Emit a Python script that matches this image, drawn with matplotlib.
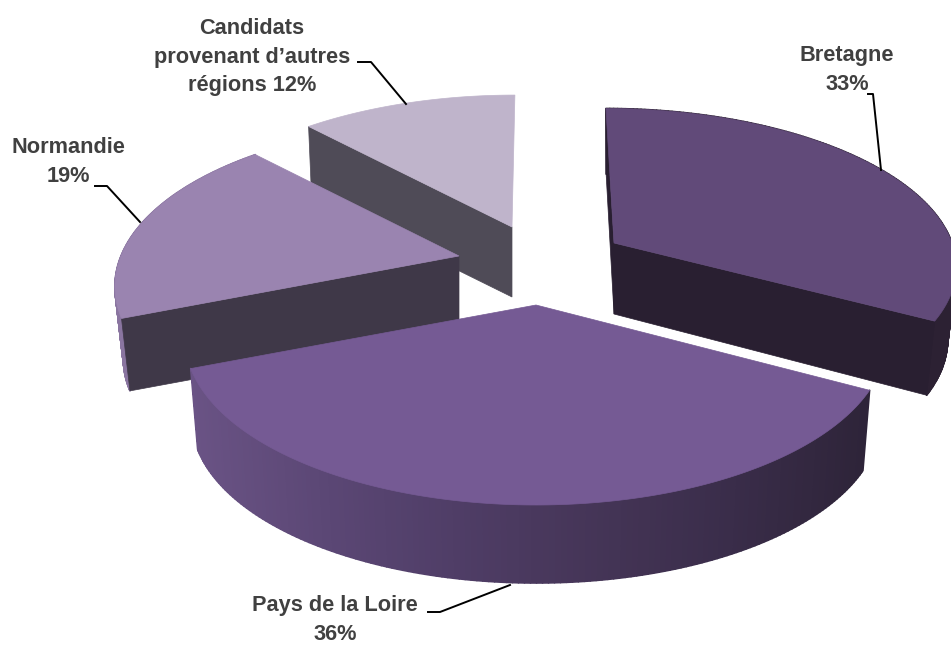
#3D looking exploded pie, drawn by hand since matplotlib has no perspective pie
import numpy as np
import matplotlib
matplotlib.use("Agg")
import matplotlib.pyplot as plt
from matplotlib.collections import PolyCollection
from matplotlib.colors import LinearSegmentedColormap

plt.rcParams['font.family'] = ['Liberation Sans', 'DejaVu Sans']

regions = ["Bretagne", "Pays de la Loire", "Normandie", "Candidats"]
shares = [33, 36, 19, 12]
label_texts = ["Bretagne\n33%", "Pays de la Loire\n36%", "Normandie\n19%",
               "Candidats\nprovenant d\u2019autres\nrégions 12%"]

#slice geometry in pixels: apex, semi axes, perspective, wall depth, scales of the lower face, tilt
geometry = {
    "Bretagne": dict(cx=614, cy=243, a=338, b=152, k=0.13, d=71, s=0.975, sy=1.04, tilt=0.06),
    "Pays de la Loire": dict(cx=536, cy=305, a=344, b=160, k=0.20, d=82, s=0.98, sy=0.98, tilt=0.0),
    "Normandie": dict(cx=459, cy=256, a=338, b=158, k=0.187, d=74, s=0.975, sy=0.975, tilt=0.0),
    "Candidats": dict(cx=512, cy=227, a=342, b=157, k=0.19, d=70, s=0.985, sy=0.985, tilt=-0.022),
}
top_colors = {"Bretagne": "#614a79", "Pays de la Loire": "#755a94",
              "Normandie": "#9a84b0", "Candidats": "#bfb4cb"}
wall_colors = {"Bretagne": "#291f31", "Pays de la Loire": "#2e2439",
               "Normandie": "#3f3848", "Candidats": "#4f4b57"}
#the Candidats slice points away from the viewer so it shows no rim
rim_colors = {"Bretagne": ["#2c2133", "#2c2133"],
              "Pays de la Loire": ["#6a5385", "#5b4775", "#4f3d66", "#453557", "#3a2d4a", "#2e2439"],
              "Normandie": ["#8a75a0", "#8a75a0"],
              "Candidats": None}
#which cut edges show a wall: 0 = first edge clockwise, -1 = last edge
visible_walls = {"Bretagne": [0, -1], "Pays de la Loire": [], "Normandie": [0], "Candidats": [0]}

#back slices first so the front ones cover them
draw_order = ["Candidats", "Normandie", "Bretagne", "Pays de la Loire"]

label_pos = {"Bretagne": (847, 70), "Pays de la Loire": (335, 620),
             "Normandie": (68, 162), "Candidats": (252, 57)}
leaders = {"Bretagne": [(868, 94), (873, 94), (881, 170)],
           "Pays de la Loire": [(428, 612), (440, 612), (510, 585)],
           "Normandie": [(95, 186), (107, 186), (140, 222)],
           "Candidats": [(358, 62), (371, 62), (406, 104)]}


def project(g, t, lower=False):
    u, v = np.cos(t), np.sin(t)
    w = 1 + g["k"] * v
    x = g["a"] * u / w
    y = -g["b"] * v / w
    x = x + g["tilt"] * y
    if lower:
        return g["cx"] + g["s"] * x, g["cy"] + g["sy"] * y + g["d"]
    return g["cx"] + x, g["cy"] + y


def draw_slice(ax, name, start, end):
    g = geometry[name]
    t = np.radians(np.linspace(start, end, 160))
    xt, yt = project(g, t)
    xb, yb = project(g, t, lower=True)
    ax0, ay0 = g["cx"], g["cy"]
    bx0, by0 = g["cx"], g["cy"] + g["d"]

    #rim as thin quads so it can carry a horizontal gradient
    if rim_colors[name]:
        cmap = LinearSegmentedColormap.from_list(name, rim_colors[name])
        quads = []
        cols = []
        for i in range(len(t) - 1):
            quads.append([(xt[i], yt[i]), (xt[i + 1], yt[i + 1]), (xb[i + 1], yb[i + 1]), (xb[i], yb[i])])
            cols.append(cmap(np.clip((xt[i] - 188) / (869 - 188), 0, 1)))
        ax.add_collection(PolyCollection(quads, facecolors=cols, edgecolors=cols, linewidths=1.2, zorder=1))

    #flat walls on the cut edges, over the rim ends
    for i in visible_walls[name]:
        ax.fill([ax0, xt[i], xb[i], bx0], [ay0, yt[i], yb[i], by0],
                color=wall_colors[name], lw=0.5, zorder=1)

    ax.fill(np.r_[ax0, xt], np.r_[ay0, yt], color=top_colors[name], lw=0.5, zorder=1)


fig = plt.figure(figsize=(9.51, 6.46), dpi=100)
ax = fig.add_axes([0, 0, 1, 1])
ax.set_xlim(0, 951)
ax.set_ylim(646, 0)
ax.axis('off')

#angles go clockwise from twelve o'clock
edges = 90 - np.cumsum([0] + shares) * 360 / sum(shares)
angle_map = {r: (edges[i], edges[i + 1]) for i, r in enumerate(regions)}

for name in draw_order:
    draw_slice(ax, name, *angle_map[name])

for i, name in enumerate(regions):
    x, y = label_pos[name]
    ax.text(x, y, label_texts[i], ha='center', va='center', fontsize=15.7, fontweight='bold',
            color='#404040', linespacing=1.48, zorder=3)
    pts = leaders[name]
    ax.plot([p[0] for p in pts], [p[1] for p in pts], color='black', lw=1.4, zorder=3)

plt.savefig("out.png", dpi=100)
